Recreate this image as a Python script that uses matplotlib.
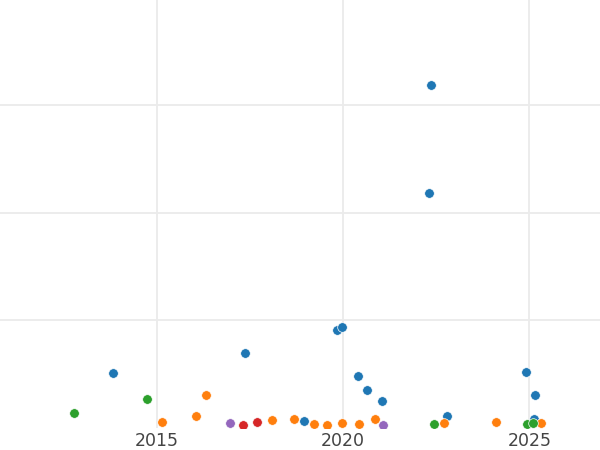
import matplotlib
matplotlib.use("Agg")
import matplotlib.pyplot as plt

blue_x = [2013.83, 2017.36, 2018.96, 2019.83, 2019.97, 2020.40, 2020.65, 2021.05, 2022.30, 2022.36, 2022.79, 2024.91, 2025.15, 2025.12]
blue_y = [0.510, 0.693, 0.062, 0.907, 0.932, 0.479, 0.349, 0.247, 2.179, 3.183, 0.107, 0.519, 0.302, 0.079]

orange_x = [2015.13, 2016.06, 2016.31, 2018.10, 2018.67, 2019.22, 2019.57, 2019.96, 2020.42, 2020.85, 2022.71, 2024.10, 2025.30]
orange_y = [0.051, 0.107, 0.302, 0.070, 0.079, 0.033, 0.023, 0.039, 0.033, 0.079, 0.045, 0.048, 0.039]

green_x = [2012.77, 2014.74, 2022.45, 2024.94, 2025.11]
green_y = [0.132, 0.265, 0.033, 0.030, 0.042]

red_x = [2017.32, 2017.69]
red_y = [0.019, 0.047]

purple_x = [2016.96, 2021.08]
purple_y = [0.039, 0.023]

series = [
    (blue_x, blue_y, "#1f77b4"),
    (orange_x, orange_y, "#ff7f0e"),
    (green_x, green_y, "#2ca02c"),
    (red_x, red_y, "#d62728"),
    (purple_x, purple_y, "#9467bd"),
]

xticks = [2015, 2020, 2025]
yticks = [1, 2, 3]

fig = plt.figure(figsize=(6, 4.5), dpi=100)
ax = fig.add_axes([0, 22.5 / 450, 1, 427.5 / 450])

for xs, ys, c in series:
    ax.scatter(xs, ys, s=48, color=c, edgecolor="white", linewidth=0.5, zorder=3)

ax.set_xlim(2010.784, 2026.896)
ax.set_ylim(0, 427.5 / 107.5)
ax.set_xticks(xticks)
ax.set_xticklabels([str(t) for t in xticks])
ax.set_yticks(yticks)
ax.set_yticklabels([])
ax.tick_params(axis="both", length=0, pad=3, labelsize=12.5, labelcolor="#444444")
ax.grid(True, color="#ebebeb", linewidth=1.3, zorder=0)
ax.set_axisbelow(True)
for sp in ax.spines.values():
    sp.set_visible(False)

fig.savefig("out.png", dpi=100)
